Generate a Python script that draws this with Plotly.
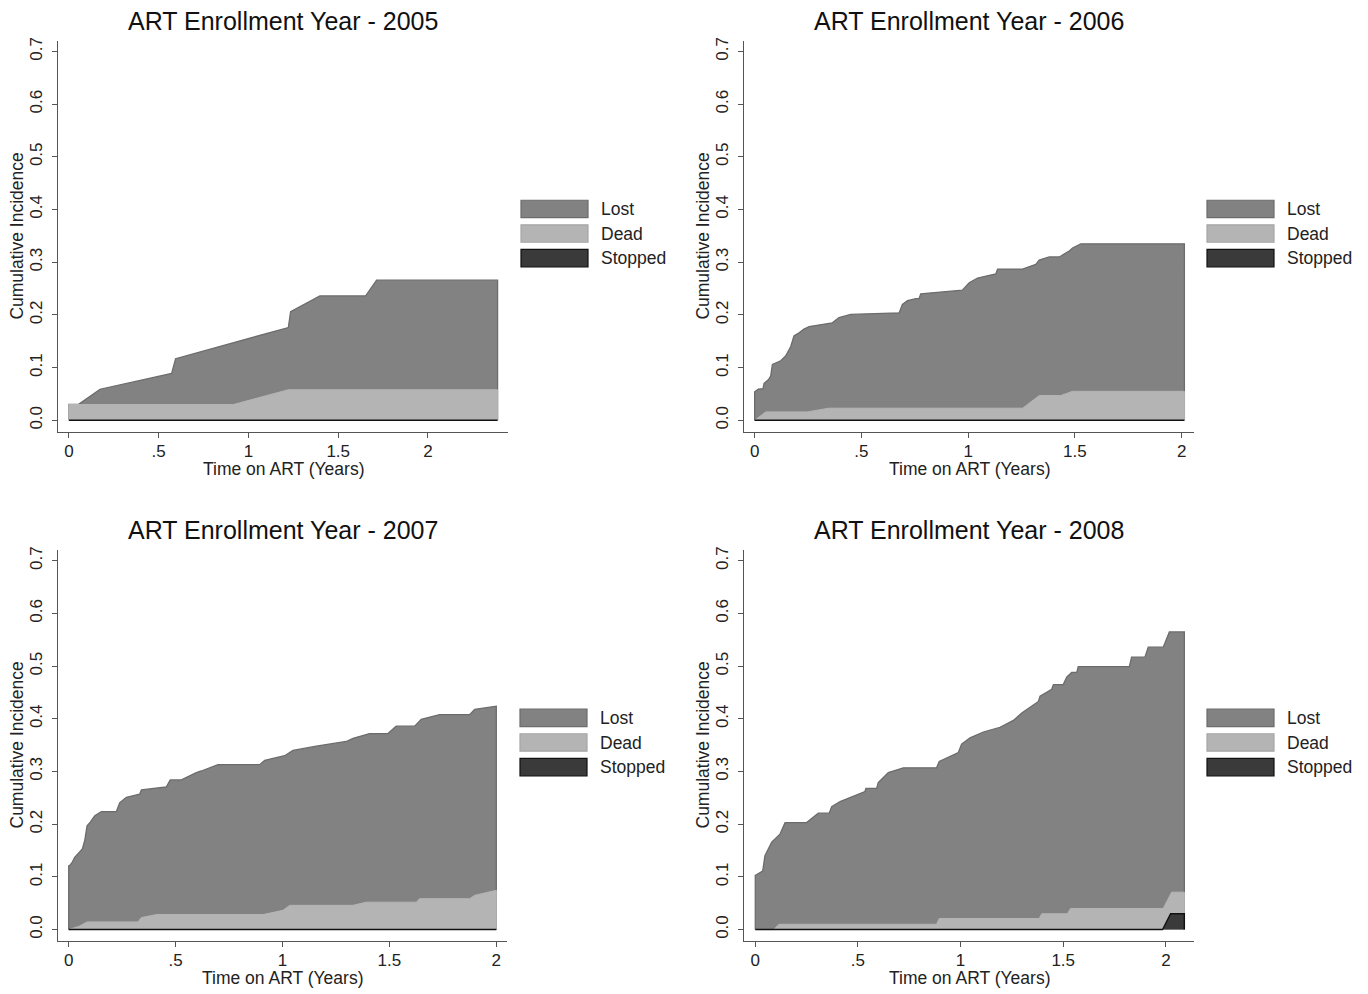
import plotly.graph_objects as go

# ---------------- data (cumulative stacked tops) ----------------
years = ["2005", "2006", "2007", "2008"]

# 2005
t_lost_2005 = [0, 0.052, 0.173, 0.572, 0.594, 1.222, 1.235, 1.398, 1.653, 1.714, 2.388]
lost_2005 = [0.030, 0.030, 0.059, 0.089, 0.117, 0.176, 0.206, 0.236, 0.236, 0.266, 0.266]
t_dead_2005 = [0, 0.916, 1.222, 2.388]
dead_2005 = [0.030, 0.030, 0.058, 0.058]
t_stop_2005 = [0, 2.388]
stop_2005 = [0, 0]

# 2006
t_lost_2006 = [0, 0.017, 0.039, 0.044, 0.064, 0.075, 0.083, 0.122, 0.145, 0.169, 0.184, 0.208,
               0.231, 0.255, 0.364, 0.395, 0.45, 0.677, 0.692, 0.716, 0.755, 0.77, 0.778, 0.973,
               1.005, 1.044, 1.13, 1.138, 1.255, 1.317, 1.333, 1.38, 1.427, 1.473, 1.489, 1.528, 2.013]
lost_2006 = [0.054, 0.059, 0.060, 0.070, 0.077, 0.084, 0.106, 0.113, 0.122, 0.140, 0.160, 0.166,
             0.173, 0.178, 0.185, 0.195, 0.201, 0.204, 0.220, 0.227, 0.231, 0.231, 0.240, 0.247,
             0.261, 0.270, 0.278, 0.287, 0.287, 0.296, 0.304, 0.310, 0.310, 0.321, 0.327, 0.335, 0.335]
t_dead_2006 = [0, 0.052, 0.247, 0.348, 1.255, 1.333, 1.434, 1.489, 2.013]
dead_2006 = [0, 0.016, 0.016, 0.023, 0.023, 0.047, 0.047, 0.055, 0.055]
t_stop_2006 = [0, 2.013]
stop_2006 = [0, 0]

# 2007
t_lost_2007 = [0, 0.005, 0.017, 0.028, 0.047, 0.064, 0.075, 0.086, 0.101, 0.122, 0.153, 0.223,
               0.239, 0.27, 0.332, 0.34, 0.457, 0.475, 0.527, 0.597, 0.62, 0.698, 0.893, 0.917,
               1.01, 1.049, 1.158, 1.298, 1.33, 1.407, 1.493, 1.532, 1.618, 1.649, 1.735, 1.875,
               1.899, 2.0]
lost_2007 = [0.121, 0.122, 0.128, 0.137, 0.145, 0.153, 0.169, 0.197, 0.204, 0.216, 0.224, 0.224,
             0.241, 0.251, 0.257, 0.265, 0.271, 0.284, 0.284, 0.298, 0.301, 0.313, 0.313, 0.321,
             0.330, 0.340, 0.348, 0.357, 0.363, 0.372, 0.372, 0.386, 0.386, 0.399, 0.408, 0.408,
             0.418, 0.424]
t_dead_2007 = [0, 0.047, 0.086, 0.324, 0.34, 0.41, 0.909, 1.002, 1.034, 1.33, 1.392, 1.626, 1.641,
               1.875, 1.899, 2.0]
dead_2007 = [0, 0.006, 0.0145, 0.0145, 0.0227, 0.0284, 0.0284, 0.0365, 0.046, 0.046, 0.052, 0.052,
             0.0586, 0.0586, 0.065, 0.0744]
t_stop_2007 = [0, 2.0]
stop_2007 = [0, 0]

# 2008
t_lost_2008 = [0, 0.036, 0.047, 0.08, 0.12, 0.145, 0.25, 0.307, 0.36, 0.372, 0.413, 0.534, 0.539,
               0.591, 0.599, 0.648, 0.721, 0.883, 0.896, 0.989, 1.005, 1.046, 1.111, 1.192, 1.257,
               1.298, 1.379, 1.387, 1.444, 1.452, 1.50, 1.517, 1.541, 1.566, 1.573, 1.822, 1.833,
               1.898, 1.914, 1.987, 2.017, 2.09]
lost_2008 = [0.103, 0.111, 0.140, 0.166, 0.181, 0.203, 0.203, 0.221, 0.221, 0.233, 0.243, 0.262,
             0.268, 0.268, 0.279, 0.298, 0.307, 0.307, 0.319, 0.336, 0.352, 0.364, 0.375, 0.384,
             0.397, 0.411, 0.433, 0.443, 0.456, 0.465, 0.465, 0.479, 0.488, 0.488, 0.499, 0.499,
             0.517, 0.517, 0.536, 0.536, 0.565, 0.565]
t_dead_2008 = [0, 0.09, 0.115, 0.883, 0.896, 1.383, 1.395, 1.52, 1.536, 1.987, 2.028, 2.09]
dead_2008 = [0, 0, 0.010, 0.010, 0.021, 0.021, 0.030, 0.030, 0.040, 0.040, 0.071, 0.071]
t_stop_2008 = [0, 1.984, 2.023, 2.09]
stop_2008 = [0, 0, 0.030, 0.030]

series = {
    "2005": (t_lost_2005, lost_2005, t_dead_2005, dead_2005, t_stop_2005, stop_2005),
    "2006": (t_lost_2006, lost_2006, t_dead_2006, dead_2006, t_stop_2006, stop_2006),
    "2007": (t_lost_2007, lost_2007, t_dead_2007, dead_2007, t_stop_2007, stop_2007),
    "2008": (t_lost_2008, lost_2008, t_dead_2008, dead_2008, t_stop_2008, stop_2008),
}

y_ticks = [0, 0.1, 0.2, 0.3, 0.4, 0.5, 0.6, 0.7]
y_ticktext = ["0.0", "0.1", "0.2", "0.3", "0.4", "0.5", "0.6", "0.7"]
x_ticks = [0, 0.5, 1, 1.5, 2]
x_ticktext = ["0", ".5", "1", "1.5", "2"]
legend_labels = ["Lost", "Dead", "Stopped"]

# ---------------- styling / layout ----------------
OFF = 8                      # default page body margin
W, H = 1368 - OFF, 994 - OFF
FONT = "Liberation Sans, Arial, Helvetica, sans-serif"
C_LOST, C_LOST_LINE = "#828282", "#6c6c6c"
C_DEAD = "#b4b4b4"
C_STOP, C_STOP_LINE = "#3a3a3a", "#111111"
AX = "#555555"

# pixel boxes (window coordinates) of plot areas: (left, right, top, bottom) and ranges
panels = [
    dict(box=(58, 508, 37, 430), xr=[-0.061, 2.446], yr=[-0.0227, 0.720]),
    dict(box=(744, 1194, 37, 430), xr=[-0.050, 2.058], yr=[-0.0227, 0.720]),
    dict(box=(58, 507, 548, 941), xr=[-0.050, 2.050], yr=[-0.0221, 0.7208]),
    dict(box=(744, 1194, 548, 941), xr=[-0.055, 2.137], yr=[-0.0221, 0.7208]),
]

def px(x):
    return (x - OFF) / W

def py(y):
    return 1 - (y - OFF) / H

def closed(t, v):
    return [t[0]] + list(t) + [t[-1]], [0] + list(v) + [0]

fig = go.Figure()
annotations = []
shapes = []

for i, (yr_lbl, p) in enumerate(zip(years, panels)):
    n = "" if i == 0 else str(i + 1)
    xa, ya = "x" + n, "y" + n
    tl, vl, td, vd, ts, vs = series[yr_lbl]

    x, y = closed(tl, vl)
    fig.add_trace(go.Scatter(x=x, y=y, xaxis=xa, yaxis=ya, mode="lines", fill="tozeroy",
                             fillcolor=C_LOST, line=dict(color=C_LOST_LINE, width=1.3),
                             name="Lost", showlegend=False))
    x, y = closed(td, vd)
    fig.add_trace(go.Scatter(x=x, y=y, xaxis=xa, yaxis=ya, mode="lines", fill="tozeroy",
                             fillcolor=C_DEAD, line=dict(color=C_DEAD, width=1),
                             name="Dead", showlegend=False))
    x, y = closed(ts, vs)
    fig.add_trace(go.Scatter(x=x, y=y, xaxis=xa, yaxis=ya, mode="lines", fill="tozeroy",
                             fillcolor=C_STOP, line=dict(color=C_STOP_LINE, width=1.4),
                             name="Stopped", showlegend=False))

    l, r, t, b = p["box"]
    fig.layout["xaxis" + n] = dict(
        domain=[px(l), px(r)], range=p["xr"], anchor=ya, showgrid=False, zeroline=False,
        showline=True, linecolor=AX, linewidth=1, ticks="outside", ticklen=5, tickcolor=AX,
        tickvals=x_ticks, ticktext=x_ticktext, ticklabelstandoff=-2,
        tickfont=dict(family=FONT, size=17, color="#222"))
    fig.layout["yaxis" + n] = dict(
        domain=[py(b), py(t)], range=p["yr"], anchor=xa, showgrid=False, zeroline=False,
        showline=True, linecolor=AX, linewidth=1, ticks="outside", ticklen=5, tickcolor=AX,
        tickvals=y_ticks, ticktext=y_ticktext, tickangle=-90, ticklabelstandoff=3,
        tickfont=dict(family=FONT, size=17, color="#222"))

    cx = (l + r) / 2
    annotations.append(dict(text="ART Enrollment Year - " + yr_lbl, x=px(cx), y=py(t - 20),
                            xref="paper", yref="paper", showarrow=False, xanchor="center",
                            yanchor="middle", font=dict(family=FONT, size=25, color="#111")))
    annotations.append(dict(text="Time on ART (Years)", x=px(cx), y=py(b + 37),
                            xref="paper", yref="paper", showarrow=False, xanchor="center",
                            yanchor="middle", font=dict(family=FONT, size=17.5, color="#222")))
    annotations.append(dict(text="Cumulative Incidence", x=px(l - 41), y=py((t + b) / 2),
                            xref="paper", yref="paper", showarrow=False, xanchor="center",
                            yanchor="middle", textangle=-90,
                            font=dict(family=FONT, size=17.5, color="#222")))

    # legend (swatches + labels)
    lx0 = r + 13
    ly0 = t + 160
    fills = [(C_LOST, C_LOST_LINE), (C_DEAD, "#a6a6a6"), (C_STOP, C_STOP_LINE)]
    for k, (lab, (fc, lc)) in enumerate(zip(legend_labels, fills)):
        y0 = ly0 + k * 24.7
        shapes.append(dict(type="rect", xref="paper", yref="paper",
                           x0=px(lx0), x1=px(lx0 + 67), y0=py(y0 + 17.5), y1=py(y0),
                           fillcolor=fc, line=dict(color=lc, width=1.2)))
        annotations.append(dict(text=lab, x=px(lx0 + 78), y=py(y0 + 9), xref="paper",
                                yref="paper", showarrow=False, xanchor="left", yanchor="middle",
                                font=dict(family=FONT, size=17.5, color="#222")))

fig.update_layout(width=W, height=H, margin=dict(l=0, r=0, t=0, b=0),
                  paper_bgcolor="white", plot_bgcolor="white",
                  annotations=annotations, shapes=shapes, showlegend=False)

fig.write_html("out.html")
